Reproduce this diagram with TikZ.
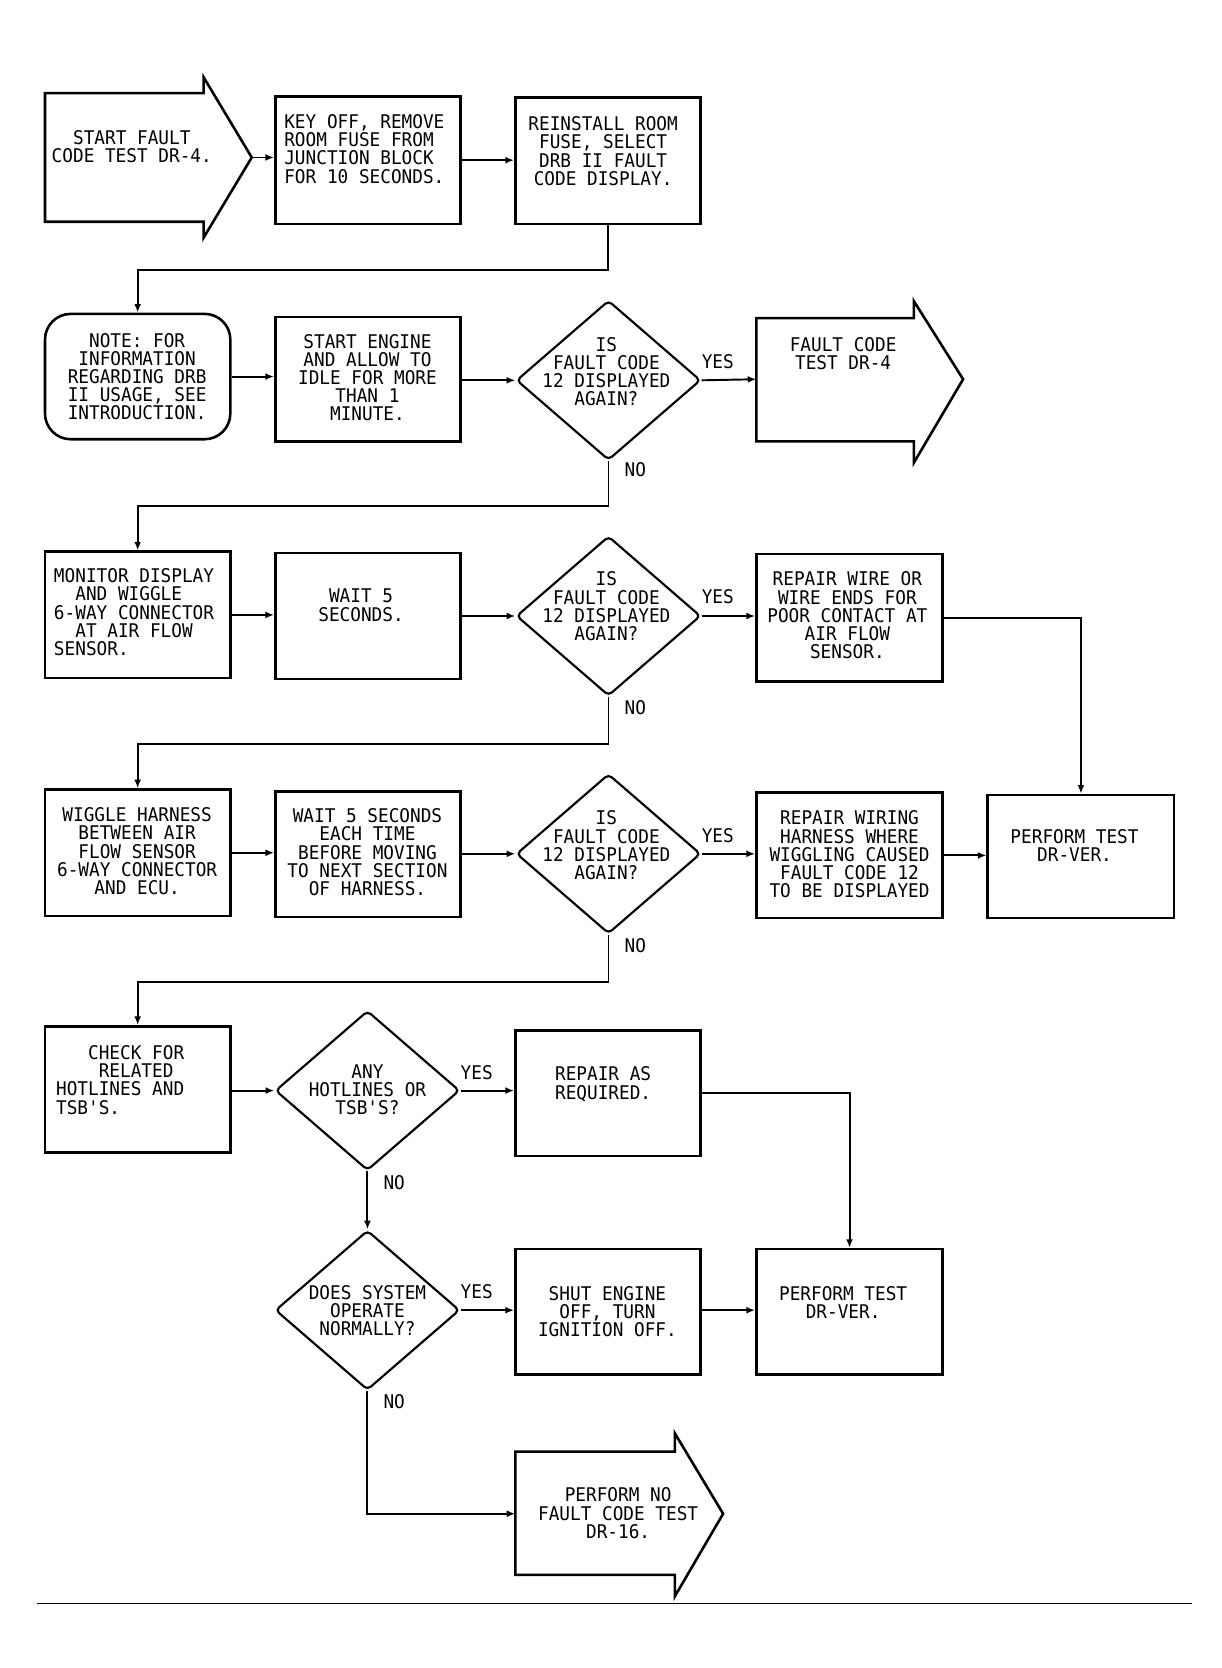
\documentclass[tikz,border=0pt]{standalone}
\usepackage{fontspec}
\newfontfamily\plotfont[FakeStretch=0.94]{DejaVu Sans Mono}
\usetikzlibrary{arrows.meta,shapes.geometric,fit}
\tikzset{
  every node/.style={font=\plotfont\fontsize{8.8}{8.5}\selectfont},
  box/.style={draw, line width=1.2pt, inner sep=0pt, rectangle},
  rbox/.style={box, rounded corners=12pt},
  dec/.style={draw, diamond, line width=1pt, inner sep=0pt, minimum width=86pt, minimum height=74.5pt, rounded corners=2pt},
  txt/.style={align=center, inner sep=0pt, anchor=north},
  ltxt/.style={align=left, inner sep=0pt, anchor=north west},
  lbl/.style={inner sep=0pt},
  conn/.style={line width=0.9pt, -{Latex[length=4pt,width=3.2pt]}},
  blk/.style={draw, line width=1.2pt, line join=miter},
}
\begin{document}
\begin{tikzpicture}[x=0.5pt,y=-0.5pt]
\useasboundingbox (0,0) rectangle (1140,1557);

% ---- row 1
\draw[blk] (42,87) -- (190,87) -- (190,72) -- (235,147) -- (190,222) -- (190,207) -- (42,207) -- cycle;
\coordinate (sttip) at (235,147);
\node[txt] (stt) at (123,121.5) {START FAULT\\CODE TEST DR-4.};
\node[box, fit={(257,90) (430,209)}] (key) {};
\node[ltxt] (keyt) at (265,106.5) {KEY OFF, REMOVE\\ROOM FUSE FROM\\JUNCTION BLOCK\\FOR 10 SECONDS.};
\node[box, fit={(481,91) (654,209)}] (rein) {};
\node[txt] (reint) at (563,108.5) {REINSTALL ROOM\\FUSE, SELECT\\DRB II FAULT\\CODE DISPLAY.};

% ---- row 2
\node[rbox, fit={(42,293) (215,410)}] (note) {};
\node[txt] (notet) at (128,310.5) {NOTE: FOR\\INFORMATION\\REGARDING DRB\\II USAGE, SEE\\INTRODUCTION.};
\node[box, fit={(257,296) (430,412)}] (eng) {};
\node[txt] (engt) at (343,311.5) {START ENGINE\\AND ALLOW TO\\IDLE FOR MORE\\THAN 1\\MINUTE.};
\node[dec] (d1) at (568,355) {};
\node[txt] (d1t) at (566,314.5) {IS\\FAULT CODE\\12 DISPLAYED\\AGAIN?};
\draw[blk] (706,297) -- (853,297) -- (853,281) -- (899,354) -- (853,432) -- (853,412) -- (706,412) -- cycle;
\coordinate (fc4in) at (706,354);
\node[txt] (fc4t) at (787,314.5) {FAULT CODE\\TEST DR-4};
\node[lbl] (y1) at (670,338) {YES};
\node[lbl] (n1) at (593,438) {NO};

% ---- row 3
\node[box, fit={(42,515) (215,633)}] (mon) {};
\node[ltxt] (mont) at (50,530.5) {MONITOR DISPLAY\\\phantom{XX}AND WIGGLE\\6-WAY CONNECTOR\\\phantom{XX}AT AIR FLOW\\SENSOR.};
\node[box, fit={(257,516) (430,634)}] (wt) {};
\node[txt] (wtt) at (337,549.5) {WAIT 5\\SECONDS.};
\node[dec] (d2) at (568,575) {};
\node[txt] (d2t) at (566,533.5) {IS\\FAULT CODE\\12 DISPLAYED\\AGAIN?};
\node[box, fit={(706,517) (880,636)}] (rw) {};
\node[txt] (rwt) at (791,533.5) {REPAIR WIRE OR\\WIRE ENDS FOR\\POOR CONTACT AT\\AIR FLOW\\SENSOR.};
\node[lbl] (y2) at (670,557) {YES};
\node[lbl] (n2) at (593,661) {NO};

% ---- row 4
\node[box, fit={(42,737) (215,855)}] (wig) {};
\node[txt] (wigt) at (128,753.5) {WIGGLE HARNESS\\BETWEEN AIR\\FLOW SENSOR\\6-WAY CONNECTOR\\AND ECU.};
\node[box, fit={(257,739) (430,856)}] (wt2) {};
\node[txt] (wt2t) at (343,754.5) {WAIT 5 SECONDS\\EACH TIME\\BEFORE MOVING\\TO NEXT SECTION\\OF HARNESS.};
\node[dec] (d3) at (568,797) {};
\node[txt] (d3t) at (566,756.5) {IS\\FAULT CODE\\12 DISPLAYED\\AGAIN?};
\node[box, fit={(706,740) (880,857)}] (rwr) {};
\node[txt] (rwrt) at (793,756.5) {REPAIR WIRING\\HARNESS WHERE\\WIGGLING CAUSED\\FAULT CODE 12\\TO BE DISPLAYED};
\node[box, fit={(922,742) (1096,857)}] (pf1) {};
\node[txt] (pf1t) at (1003,773.5) {PERFORM TEST\\DR-VER.};
\node[lbl] (y3) at (670,780) {YES};
\node[lbl] (n3) at (593,883) {NO};

% ---- row 5
\node[box, fit={(42,958) (215,1076)}] (chk) {};
\node[ltxt] (chkt) at (52,975.5) {\phantom{XXX}CHECK FOR\\\phantom{XXXX}RELATED\\HOTLINES AND\\TSB'S.};
\node[dec] (d4) at (343,1018) {};
\node[txt] (d4t) at (343,993.5) {ANY\\HOTLINES OR\\TSB'S?};
\node[box, fit={(481,962) (654,1079)}] (ras) {};
\node[txt] (rast) at (563,995.5) {REPAIR AS\\REQUIRED.};
\node[lbl] (y4) at (445,1001) {YES};
\node[lbl] (n4) at (368,1104) {NO};

% ---- row 6
\node[dec] (d5) at (343,1223) {};
\node[txt] (d5t) at (343,1199.5) {DOES SYSTEM\\OPERATE\\NORMALLY?};
\node[box, fit={(481,1166) (654,1283)}] (shut) {};
\node[txt] (shutt) at (567,1200.5) {SHUT ENGINE\\OFF, TURN\\IGNITION OFF.};
\node[box, fit={(706,1166) (880,1283)}] (pf2) {};
\node[txt] (pf2t) at (787,1200.5) {PERFORM TEST\\DR-VER.};
\node[lbl] (y5) at (445,1206) {YES};
\node[lbl] (n5) at (368,1308) {NO};

% ---- row 7
\draw[blk] (481,1355) -- (630,1355) -- (630,1338) -- (675,1413) -- (630,1490) -- (630,1470) -- (481,1470) -- cycle;
\coordinate (pnfin) at (481,1413);
\node[txt] (pnft) at (577,1388.5) {PERFORM NO\\FAULT CODE TEST\\DR-16.};

% ---- connectors
\draw[conn] (sttip) -- (sttip -| key.west);
\draw[conn] (key.east) -- (key.east -| rein.west);
\draw[conn] (rein.south) -- ++(0,42) -| (note.north);
\draw[conn] (note.east) -- (note.east -| eng.west);
\draw[conn] (eng.east |- d1) -- (d1.west);
\draw[conn] (d1.east) -- (fc4in);
\draw[conn] (d1.south) -- ++(0,42) -| (mon.north);
\draw[conn] (mon.east) -- (mon.east -| wt.west);
\draw[conn] (wt.east |- d2) -- (d2.west);
\draw[conn] (d2.east) -- (d2.east -| rw.west);
\draw[conn] (rw.east) -| (pf1.north);
\draw[conn] (d2.south) -- ++(0,44) -| (wig.north);
\draw[conn] (wig.east) -- (wig.east -| wt2.west);
\draw[conn] (wt2.east |- d3) -- (d3.west);
\draw[conn] (d3.east) -- (d3.east -| rwr.west);
\draw[conn] (rwr.east) -- (rwr.east -| pf1.west);
\draw[conn] (d3.south) -- ++(0,44) -| (chk.north);
\draw[conn] (chk.east |- d4) -- (d4.west);
\draw[conn] (d4.east) -- (d4.east -| ras.west);
\draw[conn] (ras.east) -| (pf2.north);
\draw[conn] (d4.south) -- (d5.north);
\draw[conn] (d5.east) -- (d5.east -| shut.west);
\draw[conn] (shut.east |- d5) -- (shut.east |- d5 -| pf2.west);
\draw[conn] (d5.south) |- (pnfin);

% ---- bottom rule
\draw[line width=0.6pt] (35,1497) -- (1113,1497);
\end{tikzpicture}
\end{document}
